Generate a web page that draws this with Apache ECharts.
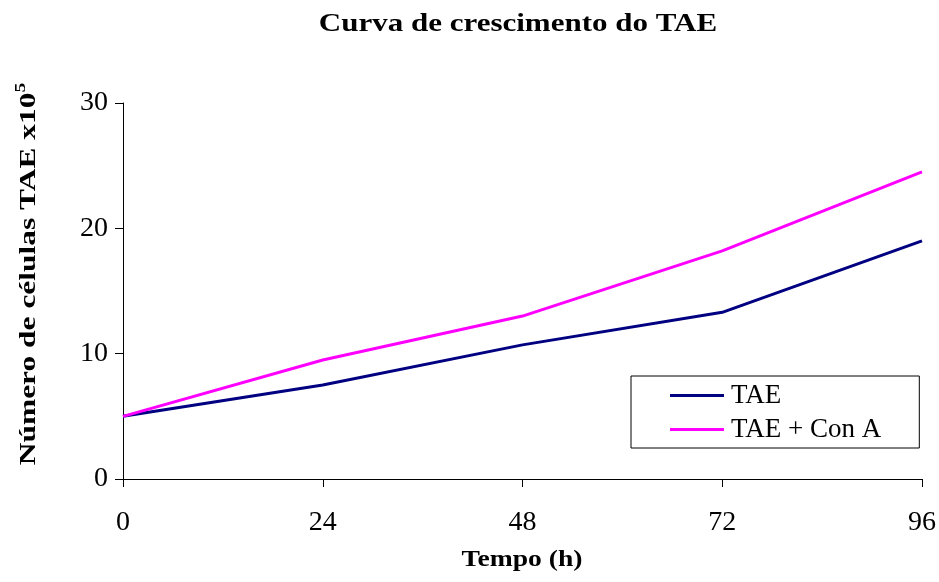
<!DOCTYPE html>
<html>
<head>
<meta charset="utf-8">
<script src="https://cdn.jsdelivr.net/npm/echarts@6/dist/echarts.min.js"></script>
<style>
html,body{margin:0;padding:0;background:#fff;}
#chart{width:939px;height:582px;}
</style>
</head>
<body>
<div id="chart"></div>
<script>
// Data
const hours = [0, 24, 48, 72, 96];
const tae = [5, 7.5, 10.7, 13.3, 19];
const taeConA = [5, 9.5, 13, 18.2, 24.5];
const seriesNames = ['TAE', 'TAE + Con A'];
const titleText = 'Curva de crescimento do TAE';
const xName = 'Tempo (h)';
const yName = 'Número de células TAE x10';

const FONT = '"Liberation Serif", "Times New Roman", serif';
const chart = echarts.init(document.getElementById('chart'), null, {renderer: 'canvas'});

const option = {
  backgroundColor: '#ffffff',
  animation: false,
  grid: {left: 123, right: 17, top: 103, bottom: 103, containLabel: false},
  legend: {
    orient: 'vertical',
    left: 631, top: 376,
    padding: [6, 38, 5, 39],
    itemGap: 7,
    itemWidth: 54, itemHeight: 3,
    icon: 'rect',
    borderColor: '#000', borderWidth: 1,
    backgroundColor: '#fff',
    textStyle: {fontFamily: FONT, fontSize: 27, color: '#000', padding: [0,0,0,2]},
    data: seriesNames
  },
  xAxis: {
    type: 'value', min: 0, max: 96, interval: 24,
    axisLine: {show: true, lineStyle: {color: '#000', width: 1}},
    axisTick: {show: true, length: 8, lineStyle: {color: '#000'}},
    axisLabel: {fontFamily: FONT, fontSize: 28, color: '#000', margin: 30},
    splitLine: {show: false}
  },
  yAxis: {
    type: 'value', min: 0, max: 30, interval: 10,
    axisLine: {show: true, lineStyle: {color: '#000', width: 1}},
    axisTick: {show: true, length: 8, lineStyle: {color: '#000'}},
    axisLabel: {fontFamily: FONT, fontSize: 28, color: '#000', margin: 15},
    splitLine: {show: false}
  },
  series: [
    {
      name: seriesNames[0], type: 'line', symbol: 'none',
      data: hours.map((h, i) => [h, tae[i]]),
      lineStyle: {color: '#000080', width: 3},
      itemStyle: {color: '#000080'}
    },
    {
      name: seriesNames[1], type: 'line', symbol: 'none',
      data: hours.map((h, i) => [h, taeConA[i]]),
      lineStyle: {color: '#FF00FF', width: 3},
      itemStyle: {color: '#FF00FF'}
    }
  ],
  graphic: [
    {
      type: 'text', x: 518, y: 25, scaleX: 1.24,
      style: {text: titleText, fontFamily: FONT, fontSize: 25, fontWeight: 'bold',
        fill: '#000', align: 'center', verticalAlign: 'middle'}
    },
    {
      type: 'text', x: 522, y: 560, scaleX: 1.2,
      style: {text: xName, fontFamily: FONT, fontSize: 23, fontWeight: 'bold',
        fill: '#000', align: 'center', verticalAlign: 'middle'}
    },
    {
      type: 'text', x: 29, y: 274, rotation: Math.PI / 2, scaleX: 1.31,
      style: {
        text: yName + '{sup|5}', fontFamily: FONT, fontSize: 24, fontWeight: 'bold',
        fill: '#000', align: 'center', verticalAlign: 'middle', lineHeight: 30,
        rich: {sup: {fontFamily: FONT, fontSize: 15, fontWeight: 'bold', fill: '#000', verticalAlign: 'top', lineHeight: 30}}
      }
    }
  ]
};
chart.setOption(option);
</script>
</body>
</html>
